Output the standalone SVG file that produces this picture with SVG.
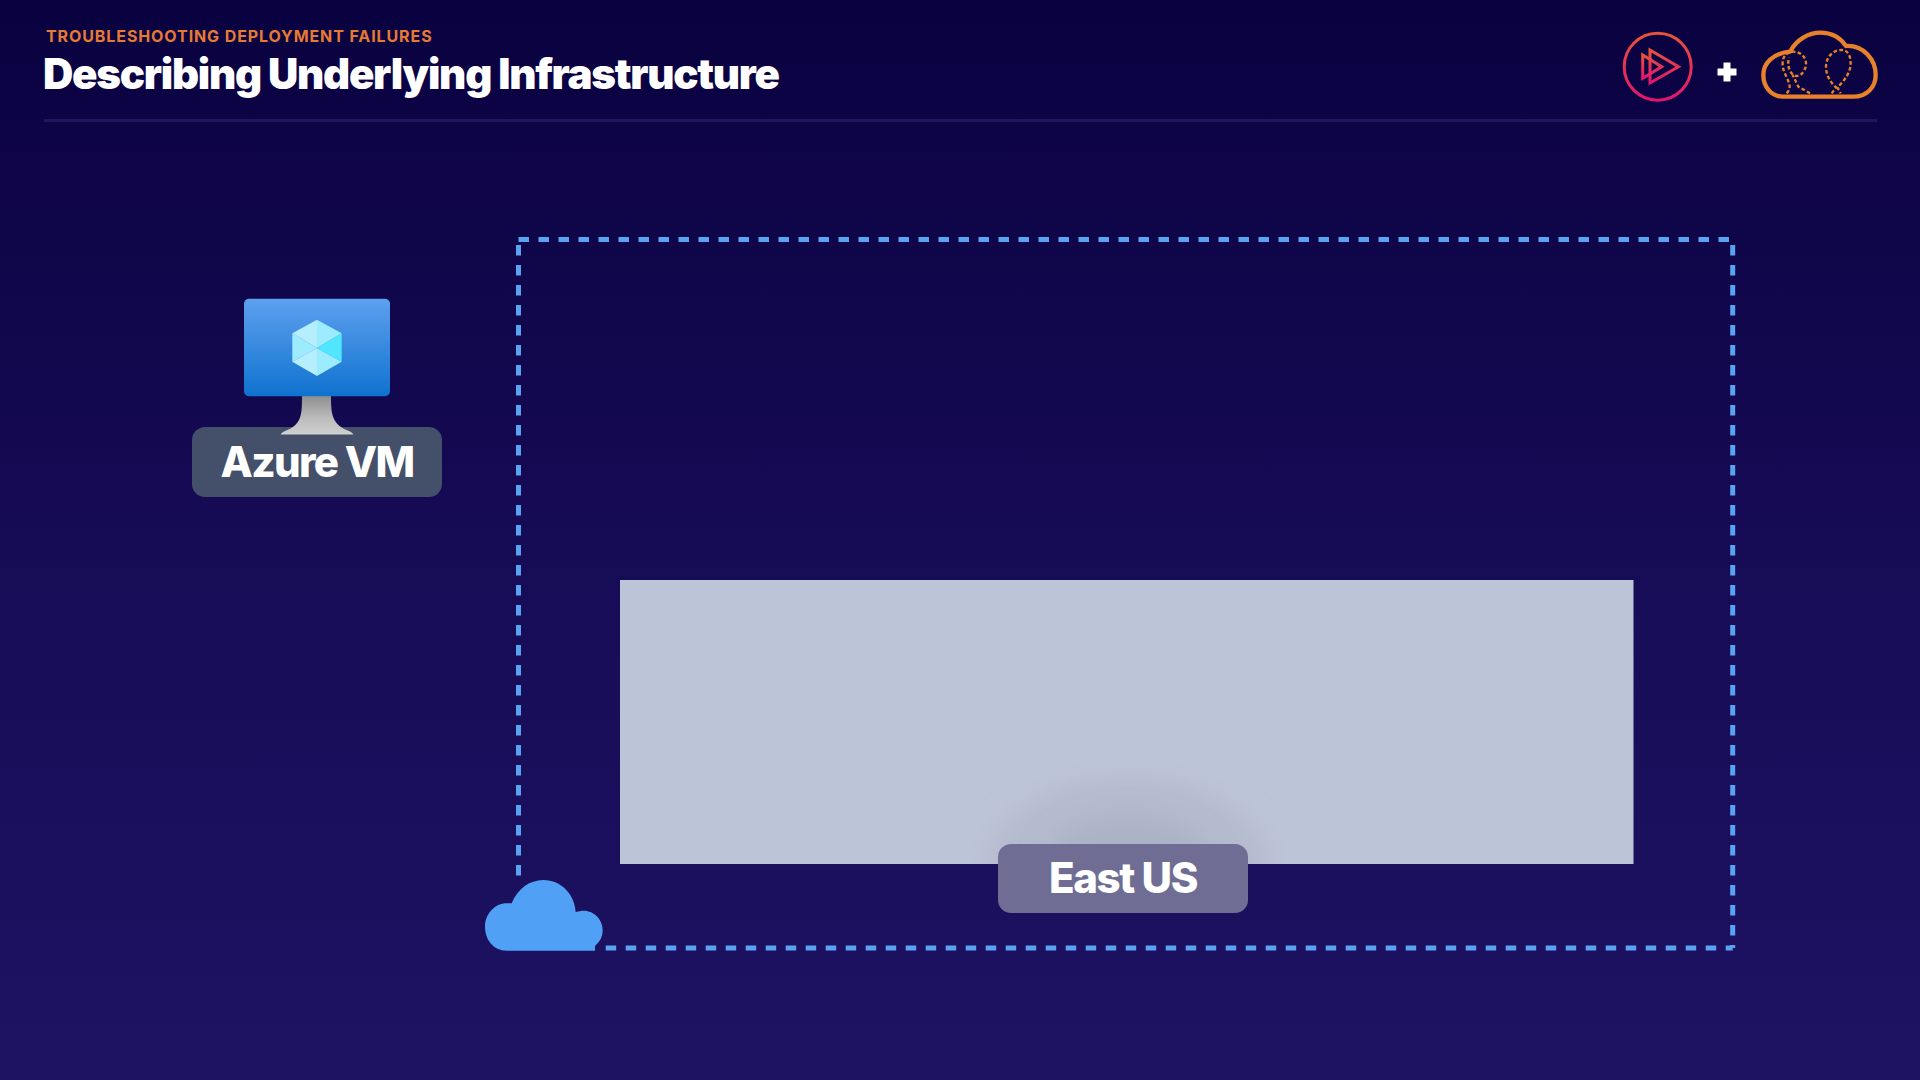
<svg xmlns="http://www.w3.org/2000/svg" width="1920" height="1080" viewBox="0 0 1920 1080">
<defs>
<linearGradient id="bg" x1="0" y1="0" x2="0" y2="1"><stop offset="0" stop-color="#0a0140"/><stop offset="0.5" stop-color="#160b55"/><stop offset="1" stop-color="#1e1363"/></linearGradient>
<linearGradient id="play" x1="0" y1="0" x2="0" y2="1"><stop offset="0" stop-color="#e8543a"/><stop offset="1" stop-color="#e0156f"/></linearGradient>
<linearGradient id="screen" x1="0" y1="0" x2="0" y2="1"><stop offset="0" stop-color="#5ea0ef"/><stop offset="1" stop-color="#0f72cf"/></linearGradient>
<linearGradient id="stand" x1="0" y1="0" x2="0" y2="1"><stop offset="0" stop-color="#8f8f8f"/><stop offset="0.6" stop-color="#bdbdbd"/><stop offset="1" stop-color="#d0d0d0"/></linearGradient>
<filter id="soft" x="-30%" y="-30%" width="160%" height="160%"><feGaussianBlur stdDeviation="12"/></filter>
<clipPath id="areaclip"><rect x="620" y="580" width="1013.500" height="284"/></clipPath>
</defs>
<style>
text{font-family:Inter,"Liberation Sans",sans-serif;fill:#fff;font-weight:800}
.dash{fill:none;stroke:#5aa2f2;stroke-width:5;stroke-dasharray:10.5 9.5}
.tag{font-size:42px;text-anchor:middle}
.balloon{fill:none;stroke:#e8812c;stroke-width:7;stroke-dasharray:11 7}
</style>
<rect width="1920" height="1080" fill="url(#bg)"/>
<g id="header">
<text x="46" y="41.500" font-size="16" style="fill:#e57a35;font-weight:700" letter-spacing="0.9">TROUBLESHOOTING DEPLOYMENT FAILURES</text>
<text x="43" y="89" font-size="42" style="font-weight:900" letter-spacing="-1.26">Describing Underlying Infrastructure</text>
<rect x="44" y="119" width="1833" height="3" fill="#1f1660"/>
</g>
<g id="play-icon" fill="none" stroke="url(#play)" stroke-width="3">
<circle cx="1657.700" cy="66.700" r="33.500"/>
<path d="M1650 50L1678.500 66.700L1650 83Z"/>
<path d="M1642.700 55L1661.700 66.700L1642.700 78.300Z"/>
</g>
<path id="plus" d="M1727 62.500V81.500M1717.500 72H1736.500" stroke="#fff" stroke-width="7" fill="none"/>
<g id="cloud-icon" transform="translate(1600 10) scale(.33333)">
<path d="M548 260C512 260 490 228 490 195C490 160 518 130 570 125C590 88 625 68 662 68C695 68 722 85 738 108C790 105 827 148 827 195C827 232 800 260 760 260Z" fill="none" stroke="#e8812c" stroke-width="13" stroke-linejoin="round"/>
<path class="balloon" d="M560 250C585 225 550 200 548 165C546 135 565 125 580 125C605 125 618 145 618 160C618 190 590 210 575 190C560 170 565 150 568 142"/>
<path class="balloon" d="M630 250L595 230L578 195"/>
<path class="balloon" d="M695 250L708 232C690 215 678 195 678 170C678 140 700 120 725 120C745 120 752 140 752 160C752 190 730 215 712 232L722 250"/>
</g>
<g id="azure-vm">
<rect x="192" y="427" width="250" height="70" rx="13" fill="#444f6a"/>
<path d="M302 396H331C331 414 332 425 349 431C352 432 353 434 353.500 434.500H280.500C281 434 282 432 285 431C302 425 302 414 302 396Z" fill="url(#stand)"/>
<rect x="244" y="298.700" width="146" height="97.600" rx="5" fill="url(#screen)"/>
<g transform="translate(170 280) scale(.33333)">
<path d="M441 119L515 160L441 204Z" fill="#9cebff"/>
<path d="M441 119L367 160L441 204Z" fill="#b5eefc"/>
<path d="M367 160L367 245L441 204Z" fill="#9cebff"/>
<path d="M367 245L441 288L441 204Z" fill="#b5eefc"/>
<path d="M441 288L515 245L441 204Z" fill="#9cebff"/>
<path d="M515 160L515 245L441 204Z" fill="#50e6ff"/>
</g>
<text class="tag" x="317" y="476.700" letter-spacing="-1.65">Azure VM</text>
</g>
<g id="connectors">
<path class="dash" d="M518.500 239.500H1732.700"/>
<path class="dash" d="M1732.700 245V948"/>
<path class="dash" d="M605.700 948H1732.700"/>
<path class="dash" d="M518.500 245V885"/>
</g>
<g id="region-area">
<rect x="620" y="580" width="1013.500" height="284" fill="#bcc5d7"/>
<g clip-path="url(#areaclip)">
<ellipse cx="1128" cy="868" rx="142" ry="92" fill="#b5bbce" filter="url(#soft)"/>
<ellipse cx="1128" cy="868" rx="85" ry="52" fill="#acb2c5" filter="url(#soft)"/>
</g>
</g>
<g id="east-us">
<rect x="998" y="844" width="250" height="69" rx="13" fill="#6f6d94"/>
<text class="tag" x="1123" y="893" letter-spacing="-1.4">East US</text>
</g>
<path id="region-cloud" transform="translate(460 840) scale(.33333)" d="M140 332C100 332 75 298 75 260C75 222 105 190 140 190H155C172 147 208 120 250 120C305 120 345 165 347 217C390 200 428 232 428 270C428 290 420 305 405 318V332Z" fill="#50a0f5"/>
</svg>
